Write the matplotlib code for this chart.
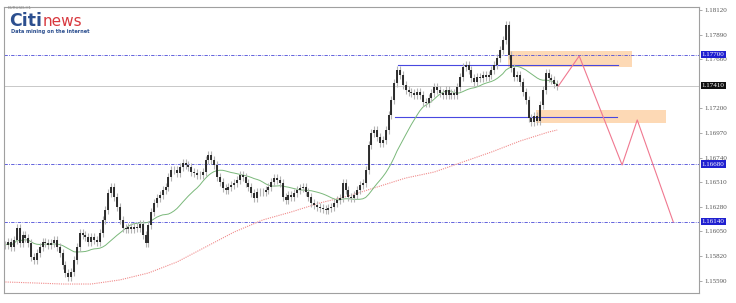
import numpy as np
import pandas as pd
import matplotlib
matplotlib.use("Agg")
import matplotlib.pyplot as plt
import matplotlib.transforms as mtransforms

# hourly closes (EURUSD, H1)
closes = [
    1.15923, 1.15951, 1.15904, 1.15970, 1.16082, 1.15941, 1.16016, 1.15988, 1.15941, 1.15811,
    1.15783, 1.15848, 1.15904, 1.15951, 1.15941, 1.15923, 1.15941, 1.15970, 1.15904, 1.15848,
    1.15736, 1.15661, 1.15624, 1.15670, 1.15783, 1.15904, 1.16035, 1.16016, 1.15998, 1.15951,
    1.15998, 1.15970, 1.15951, 1.16035, 1.16157, 1.16250, 1.16409, 1.16465, 1.16372, 1.16278,
    1.16157, 1.16082, 1.16072, 1.16091, 1.16072, 1.16091, 1.16082, 1.16119,
    1.16016, 1.15941, 1.16110, 1.16231, 1.16315, 1.16362, 1.16390, 1.16437, 1.16465, 1.16559,
    1.16624, 1.16624, 1.16596, 1.16652, 1.16689, 1.16671, 1.16652, 1.16605, 1.16596, 1.16577,
    1.16577, 1.16605, 1.16718, 1.16764, 1.16718, 1.16671, 1.16559, 1.16512, 1.16456, 1.16437,
    1.16465, 1.16484, 1.16502, 1.16531, 1.16577, 1.16559, 1.16502, 1.16465, 1.16409, 1.16362,
    1.16418, 1.16418, 1.16418, 1.16437, 1.16465, 1.16512, 1.16549, 1.16531,
    1.16502, 1.16372, 1.16344, 1.16390, 1.16372, 1.16409, 1.16437, 1.16456, 1.16465, 1.16418,
    1.16372, 1.16315, 1.16297, 1.16278, 1.16269, 1.16259, 1.16250, 1.16269, 1.16278, 1.16315,
    1.16344, 1.16362, 1.16502, 1.16437, 1.16372, 1.16362, 1.16390, 1.16437, 1.16484, 1.16502,
    1.16624, 1.16858, 1.16970, 1.16998, 1.16933, 1.16876, 1.16905, 1.16998, 1.17138, 1.17279,
    1.17437, 1.17559, 1.17512, 1.17419, 1.17372,
    1.17353, 1.17344, 1.17325, 1.17353, 1.17325, 1.17260, 1.17250, 1.17297, 1.17344, 1.17400,
    1.17372, 1.17344, 1.17325, 1.17372, 1.17325, 1.17344, 1.17325, 1.17400, 1.17494, 1.17587,
    1.17606, 1.17559, 1.17484, 1.17447, 1.17494, 1.17484, 1.17512, 1.17494, 1.17512, 1.17559,
    1.17606, 1.17671, 1.17746, 1.17840, 1.17980,
    1.17699, 1.17578, 1.17494, 1.17512, 1.17447, 1.17353, 1.17279, 1.17110, 1.17073, 1.17129,
    1.17082, 1.17232, 1.17372, 1.17531, 1.17484, 1.17466, 1.17428, 1.17410,
]

# slow moving average (red dotted), sampled every 10 bars
slow_ma_bars = [0, 10, 20, 30, 40, 50, 60, 70, 80, 90, 100, 110, 120, 130, 140, 150, 160, 170, 180, 190, 193]
slow_ma = [1.15577, 1.15568, 1.15558, 1.15558, 1.15596, 1.15661, 1.15764, 1.15904, 1.16044, 1.16157,
           1.16232, 1.16316, 1.16381, 1.16465, 1.16549, 1.16605, 1.16699, 1.16792, 1.16895, 1.16979, 1.16998]

# 1.17430 sits under the current-price label, so it is not shown
tick_values = [1.18120, 1.17890, 1.17660, 1.17200, 1.16970,
               1.16740, 1.16510, 1.16280, 1.16050, 1.15820, 1.15590]
blue_levels = [1.17700, 1.16680, 1.16140]
last_price = 1.17410

# channel lines (start bar, end bar, price)
channel = [(137.4, 214.3, 1.17606), (136.4, 214.0, 1.17120)]
# supply / demand zones (start bar, end bar, low, high)
zones = [(175.9, 219.2, 1.17587, 1.17737), (185.7, 231.1, 1.17063, 1.17185)]
# projected path
path_bars = [193.4, 200.7, 215.7, 221.0, 233.6]
path_prices = [1.17409, 1.17690, 1.16671, 1.17092, 1.16138]

fig = plt.figure(figsize=(7.36, 3.03), dpi=100)
ax = fig.add_axes([4 / 736, 10 / 303, 695 / 736, 286 / 303])

closes = np.array(closes)
bars = np.arange(len(closes))
opens = np.concatenate([[closes[0]], closes[:-1]])
top = np.maximum(opens, closes)
bot = np.minimum(opens, closes)

# zones below everything
for b0, b1, lo, hi in zones:
    ax.fill_between([b0, b1], lo, hi, color="#fdd9b5", lw=0, zorder=1)

for lvl in blue_levels:
    ax.axhline(lvl, color="#4a4ad8", lw=0.6, dashes=(4, 1.5, 1, 1.5), zorder=2)
ax.axhline(last_price, color="#c8c8c8", lw=0.7, zorder=2)

for b0, b1, p in channel:
    ax.plot([b0, b1], [p, p], color="#4848e0", lw=0.8, zorder=2)

ax.plot(slow_ma_bars, slow_ma, color="#f08a8a", lw=0.8, ls=(0, (1, 1)), zorder=3)

fast_ma = pd.Series(closes).rolling(20, min_periods=1).mean()
ax.plot(bars, fast_ma, color="#7ab87a", lw=0.7, zorder=3)

# candles
ax.vlines(bars, bot - 0.0004, top + 0.0004, color="#b4b4b4", lw=0.8, zorder=4)
ax.vlines(bars, bot - 0.00002, top + 0.00002, color="#1e1e1e", lw=1.3, zorder=5)

ax.plot(path_bars, path_prices, color="#f07890", lw=0.8, zorder=6)

ax.set_xlim(-0.5, 242.6)
ax.set_ylim(1.15474, 1.18148)
ax.set_xticks([])
ax.yaxis.tick_right()
ax.set_yticks(tick_values)
ax.set_yticklabels([f"{v:.5f}" for v in tick_values], family="Liberation Serif",
                   fontsize=5, color="#555555")
ax.tick_params(axis="y", length=2, width=0.5, color="#888888", pad=2)
for s in ax.spines.values():
    s.set_color("#a0a0a0")
    s.set_linewidth(0.8)

trans = mtransforms.blended_transform_factory(ax.transAxes, ax.transData)
for lvl in blue_levels:
    ax.text(1.004, lvl, f"{lvl:.5f}", transform=trans, fontsize=5, family="Liberation Serif",
            color="white", va="center", ha="left",
            bbox=dict(boxstyle="square,pad=0.15", fc="#2020d0", ec="none"), zorder=10)
ax.text(1.004, last_price, f"{last_price:.5f}", transform=trans, fontsize=5,
        family="Liberation Serif", color="white", va="center", ha="left",
        bbox=dict(boxstyle="square,pad=0.15", fc="#111111", ec="none"), zorder=10)

# watermark / logo
fig.text(8 / 736, 1 - 9 / 303, "EURUSD,H1", fontsize=3, color="#888888")
fig.text(9 / 736, 1 - 25.5 / 303, "Citi", fontsize=12.5, weight="bold", color="#2c4f8f")
fig.text(43 / 736, 1 - 25.5 / 303, "news", fontsize=11, color="#d8383e")
fig.text(11 / 736, 1 - 32.5 / 303, "Data mining on the internet", fontsize=3.6,
         weight="bold", color="#2c4f8f")

fig.savefig("out.png", dpi=100)
